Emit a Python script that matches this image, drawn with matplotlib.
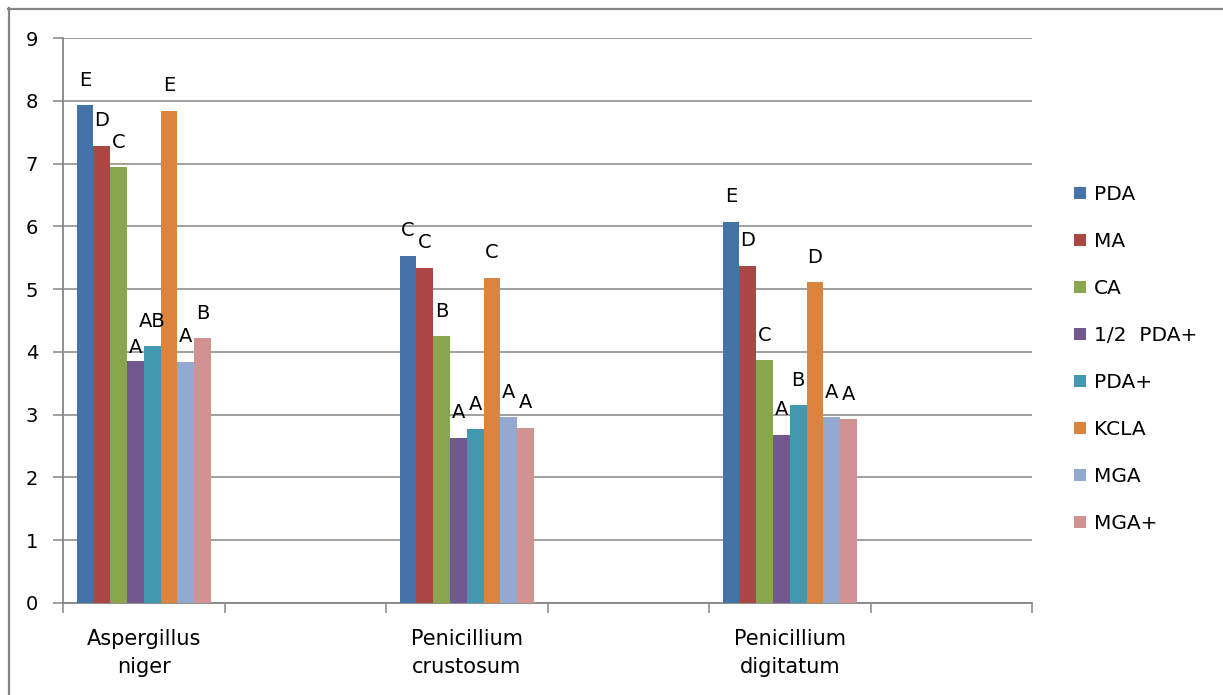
import matplotlib
matplotlib.use("Agg")
import matplotlib.pyplot as plt
from matplotlib.lines import Line2D
import numpy as np

# Six category slots on the x axis; only every other one carries data
categories = ["Aspergillus\nniger", "", "Penicillium\ncrustosum", "", "Penicillium\ndigitatum", ""]
media = ["PDA", "MA", "CA", "1/2  PDA+", "PDA+", "KCLA", "MGA", "MGA+"]

# Growth values per medium, one entry per fungus (A. niger, P. crustosum, P. digitatum)
pda = [7.93, 5.53, 6.07]
ma = [7.28, 5.34, 5.37]
ca = [6.94, 4.25, 3.87]
half_pda_plus = [3.85, 2.63, 2.68]
pda_plus = [4.09, 2.77, 3.15]
kcla = [7.84, 5.18, 5.11]
mga = [3.84, 2.96, 2.96]
mga_plus = [4.22, 2.79, 2.93]

# Significance letters per medium, same fungus order
letters_pda = ["E", "C", "E"]
letters_ma = ["D", "C", "D"]
letters_ca = ["C", "B", "C"]
letters_half = ["A", "A", "A"]
letters_pda_plus = ["AB", "A", "B"]
letters_kcla = ["E", "C", "D"]
letters_mga = ["A", "A", "A"]
letters_mga_plus = ["B", "A", "A"]

series = [pda, ma, ca, half_pda_plus, pda_plus, kcla, mga, mga_plus]
letters = [letters_pda, letters_ma, letters_ca, letters_half,
           letters_pda_plus, letters_kcla, letters_mga, letters_mga_plus]
colors = ["#4572A7", "#AA4643", "#89A54E", "#71588F",
          "#4198AF", "#DB843D", "#93A9CF", "#D19392"]

group_slots = np.array([0, 2, 4])

W, H = 1223, 695
fig = plt.figure(figsize=(W / 100, H / 100), dpi=100)
ax = fig.add_axes([63 / W, 1 - 603 / H, (1032 - 63) / W, (603 - 38) / H])

grid_color = "#868686"
n = len(series)
bar_w = 0.104
offsets = (np.arange(n) - (n - 1) / 2) * bar_w

handles = []
for i, (vals, labs, col) in enumerate(zip(series, letters, colors)):
    xs = group_slots + offsets[i]
    bars = ax.bar(xs, vals, width=bar_w, color=col, zorder=3, linewidth=0)
    handles.append(bars)
    for x, v, t in zip(xs, vals, labs):
        dy = 10 if (i == 3 and x < 1) else 18
        ax.annotate(t, (x, v), xytext=(0, dy), textcoords="offset points",
                    ha="center", va="center", fontsize=14,
                    color="black", zorder=4)

ax.set_xlim(-0.5, 5.5)
ax.set_ylim(0, 9)
ax.set_yticks(range(0, 10))
ax.yaxis.grid(True, color=grid_color, linewidth=1.1, zorder=0)
ax.set_axisbelow(True)

# Slot boundary ticks on the x axis, category names centred in the slots
ax.set_xticks(np.arange(-0.5, 6.0, 1.0))
ax.set_xticklabels([])
ax.set_xticks(np.arange(0, 6), minor=True)
ax.set_xticklabels(categories, minor=True, fontsize=15, linespacing=1.45)
ax.tick_params(axis="x", which="major", length=7, width=1.1, color=grid_color, direction="out")
ax.tick_params(axis="x", which="minor", length=0, pad=19)
ax.tick_params(axis="y", length=7, width=1.1, color=grid_color, direction="out",
               pad=11, labelsize=14)

for side in ["top", "right"]:
    ax.spines[side].set_visible(False)
for side in ["left", "bottom"]:
    ax.spines[side].set_color(grid_color)
    ax.spines[side].set_linewidth(1.3)

leg = fig.legend(handles, media, loc="upper left",
                 bbox_to_anchor=(1066 / W, 1 - 177 / H), frameon=False,
                 prop={"size": 14.5},
                 handlelength=0.6, handleheight=0.6, handletextpad=0.4,
                 labelspacing=1.39, borderaxespad=0)

# Outer chart frame (top and left edges)
fig.add_artist(Line2D([8 / W, 1], [1 - 9 / H, 1 - 9 / H], color=grid_color, lw=1.6,
                      transform=fig.transFigure))
fig.add_artist(Line2D([9 / W, 9 / W], [0, 1 - 8 / H], color=grid_color, lw=1.6,
                      transform=fig.transFigure))

fig.savefig("out.png", dpi=100, facecolor="white")
